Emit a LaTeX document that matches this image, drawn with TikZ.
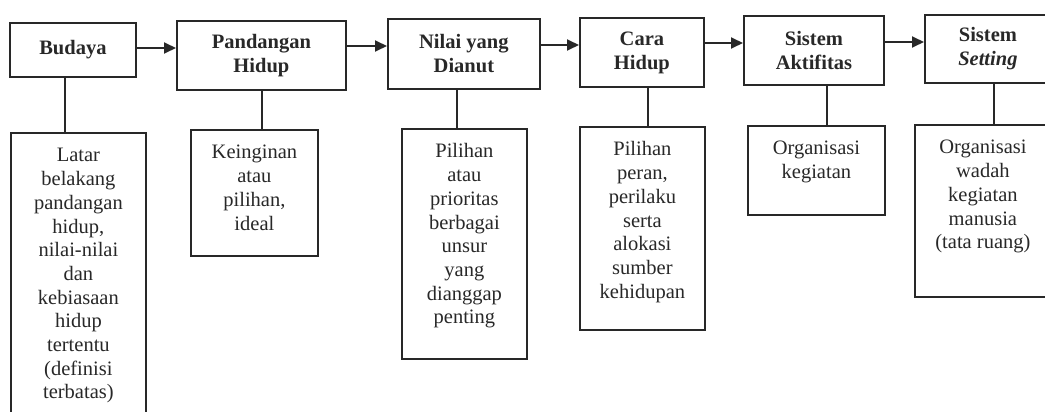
\documentclass[tikz,border=0pt]{standalone}
\usepackage{fontspec}
\setmainfont{Liberation Serif}
\usetikzlibrary{arrows.meta}
\definecolor{ink}{RGB}{40,40,40}
\newcommand{\lowtext}[3]{\parbox[c][#2pt][t]{#1pt}{\centering\fontsize{20.5}{23.7}\selectfont\rule{0pt}{29pt}#3\par}}
\tikzset{
  topbox/.style={draw=ink, line width=1.8pt, inner sep=0pt, align=center, text=ink,
    font=\fontsize{20.5}{24}\selectfont\bfseries, anchor=north west},
  lowbox/.style={draw=ink, line width=1.8pt, inner sep=0pt, text=ink, anchor=north west},
  arr/.style={draw=ink, line width=1.8pt, -{Triangle[length=12pt,width=11pt]}},
  conn/.style={draw=ink, line width=1.8pt}
}
\begin{document}
\begin{tikzpicture}[x=1pt,y=-1pt]
\useasboundingbox (0,0) rectangle (1045,412);
\clip (0,0) rectangle (1045,412);
% top row
\node[topbox, minimum width=126pt, minimum height=54pt] (t1) at (9,22) {Budaya};
\node[topbox, minimum width=169pt, minimum height=69pt] (t2) at (176,20) {Pandangan\\Hidup};
\node[topbox, minimum width=152pt, minimum height=70pt] (t3) at (387,18) {Nilai yang\\Dianut};
\node[topbox, minimum width=124pt, minimum height=69pt] (t4) at (579,17) {Cara\\Hidup};
\node[topbox, minimum width=140pt, minimum height=69pt] (t5) at (743,15) {Sistem\\Aktifitas};
\node[topbox, minimum width=126pt, minimum height=68pt] (t6) at (924,14) {Sistem\\\textit{Setting}};
% lower row
\node[lowbox] (l1) at (10,132) {\lowtext{135}{283}{Latar\\belakang\\pandangan\\hidup,\\nilai-nilai\\dan\\kebiasaan\\hidup\\tertentu\\(definisi\\terbatas)}};
\node[lowbox] (l2) at (190,129) {\lowtext{127}{126}{Keinginan\\atau\\pilihan,\\ideal}};
\node[lowbox] (l3) at (401,128) {\lowtext{125}{230}{Pilihan\\atau\\prioritas\\berbagai\\unsur\\yang\\dianggap\\penting}};
\node[lowbox] (l4) at (579,126) {\lowtext{125}{203}{Pilihan\\peran,\\perilaku\\serta\\alokasi\\sumber\\kehidupan}};
\node[lowbox] (l5) at (747,125) {\lowtext{137}{89}{Organisasi\\kegiatan}};
\node[lowbox] (l6) at (914,124) {\lowtext{136}{172}{Organisasi\\wadah\\kegiatan\\manusia\\(tata ruang)}};
% arrows
\draw[arr] (t1.east |- 0,48) -- (t2.west |- 0,48);
\draw[arr] (t2.east |- 0,46) -- (t3.west |- 0,46);
\draw[arr] (t3.east |- 0,45) -- (t4.west |- 0,45);
\draw[arr] (t4.east |- 0,43) -- (t5.west |- 0,43);
\draw[arr] (t5.east |- 0,42) -- (t6.west |- 0,42);
% connectors
\draw[conn] (t1.south -| 65,0) -- (l1.north -| 65,0);
\draw[conn] (t2.south -| 262,0) -- (l2.north -| 262,0);
\draw[conn] (t3.south -| 457,0) -- (l3.north -| 457,0);
\draw[conn] (t4.south -| 648,0) -- (l4.north -| 648,0);
\draw[conn] (t5.south -| 827,0) -- (l5.north -| 827,0);
\draw[conn] (t6.south -| 994,0) -- (l6.north -| 994,0);
\end{tikzpicture}
\end{document}
